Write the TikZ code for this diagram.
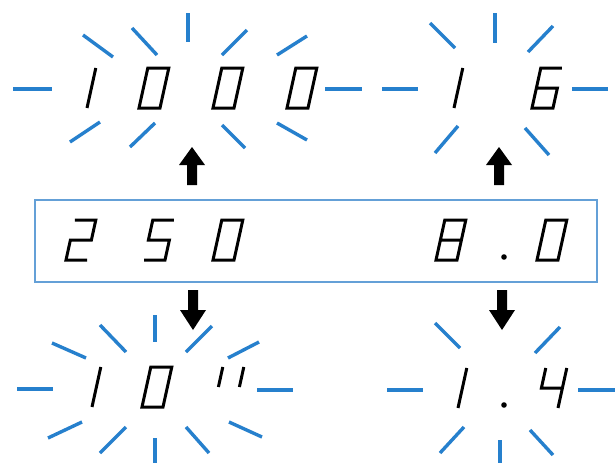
\documentclass[tikz,border=0pt]{standalone}
\definecolor{rayblue}{RGB}{38,128,205}
\definecolor{boxblue}{RGB}{100,160,215}
\def\dw{21}
\def\sl{0.22}
\tikzset{
  seg/.style={line width=3pt, line join=miter, draw=black},
  ray/.style={line width=3.4pt, draw=rayblue, line cap=butt},
  displaybox/.style={draw=boxblue, line width=1.8pt, inner sep=0pt},
  blockarrow/.style={fill=black, draw=none},
}
% point of a digit cell: #1 = across (0..21), #2 = height (0..40)
\newcommand\PT[2]{({\ox+#1+\sl*#2},{\oy-#2})}
\newcommand\dzero{\draw[seg] \PT{0}{0}--\PT{\dw}{0}--\PT{\dw}{40}--\PT{0}{40}--cycle;}
\newcommand\done{\draw[seg] \PT{\dw}{40}--\PT{\dw}{0};}
\newcommand\dtwo{\draw[seg] \PT{0}{40}--\PT{\dw}{40}--\PT{\dw}{20}--\PT{0}{20}--\PT{0}{0}--\PT{\dw}{0};}
\newcommand\dfive{\draw[seg] \PT{\dw}{40}--\PT{0}{40}--\PT{0}{20}--\PT{\dw}{20}--\PT{\dw}{0}--\PT{0}{0};}
\newcommand\dsix{\draw[seg] \PT{\dw}{40}--\PT{0}{40}--\PT{0}{0}--\PT{\dw}{0}--\PT{\dw}{20}--\PT{0}{20};}
\newcommand\deight{\draw[seg] \PT{0}{0}--\PT{\dw}{0}--\PT{\dw}{40}--\PT{0}{40}--cycle \PT{0}{20}--\PT{\dw}{20};}
\newcommand\dfour{\draw[seg] \PT{0}{40}--\PT{0}{20}--\PT{\dw}{20} \PT{\dw}{40}--\PT{\dw}{0};}
\newcommand\dticks{\draw[seg] \PT{0}{40}--\PT{0}{20} \PT{\dw}{40}--\PT{\dw}{20};}
\newcommand\segdig[3]{\def\ox{#1}\def\oy{#2}#3}
\newcommand\uparr[1]{\fill[blockarrow] (#1-5,185)--(#1-5,165)--(#1-13,165)--(#1,147)--(#1+13,165)--(#1+5,165)--(#1+5,185)--cycle;}
\newcommand\downarr[1]{\fill[blockarrow] (#1-5,290)--(#1-5,310)--(#1-13,310)--(#1,330)--(#1+13,310)--(#1+5,310)--(#1+5,290)--cycle;}
\begin{document}
\begin{tikzpicture}[x=1pt,y=-1pt]
\useasboundingbox (0,0) rectangle (616,464);
\fill[white] (0,0) rectangle (616,464);

% ---------- top left: 1000 ----------
\segdig{66}{108}{\done}
\segdig{139}{108}{\dzero}
\segdig{213}{108}{\dzero}
\segdig{287}{108}{\dzero}
\draw[ray] (13,89)--(52,89);
\draw[ray] (325,89)--(362,89);
\draw[ray] (188,13)--(188,42);
\draw[ray] (83,35)--(113,57);
\draw[ray] (132,28)--(157,55);
\draw[ray] (222,55)--(247,30);
\draw[ray] (277,55)--(307,36);
\draw[ray] (70,142)--(100,122);
\draw[ray] (130,147)--(155,123);
\draw[ray] (222,125)--(245,148);
\draw[ray] (277,123)--(307,140);

% ---------- top right: 1 6 ----------
\segdig{433}{108}{\done}
\segdig{532}{108}{\dsix}
\draw[ray] (382,89)--(418,89);
\draw[ray] (572,89)--(608,89);
\draw[ray] (495,13)--(495,43);
\draw[ray] (430,23)--(455,48);
\draw[ray] (528,52)--(553,26);
\draw[ray] (435,153)--(458,126);
\draw[ray] (525,128)--(549,155);

% ---------- middle display ----------
\node[displaybox, minimum width=562pt, minimum height=82pt] (display) at (316,241) {};
\segdig{66}{260}{\dtwo}
\segdig{144}{260}{\dfive}
\segdig{213}{260}{\dzero}
\segdig{436}{260}{\deight}
\fill (504,257) circle (2.8pt);
\segdig{537}{260}{\dzero}

% ---------- arrows ----------
\uparr{192}
\uparr{499}
\downarr{193}
\downarr{502}

% ---------- bottom left: 10'' ----------
\segdig{71}{407}{\done}
\segdig{142}{407}{\dzero}
\segdig{214}{407}{\dticks}
\draw[ray] (17,389)--(53,389);
\draw[ray] (257,390)--(293,390);
\draw[ray] (155,315)--(155,342);
\draw[ray] (100,325)--(126,352);
\draw[ray] (52,343)--(86,358);
\draw[ray] (186,352)--(212,326);
\draw[ray] (228,358)--(259,342);
\draw[ray] (48,438)--(82,422);
\draw[ray] (100,453)--(126,427);
\draw[ray] (155,438)--(155,463);
\draw[ray] (186,427)--(209,453);
\draw[ray] (229,422)--(262,437);

% ---------- bottom right: 1.4 ----------
\segdig{437}{408}{\done}
\fill (504,405) circle (2.8pt);
\segdig{537}{408}{\dfour}
\draw[ray] (387,390)--(423,390);
\draw[ray] (578,390)--(615,390);
\draw[ray] (435,323)--(460,348);
\draw[ray] (535,353)--(560,327);
\draw[ray] (440,453)--(464,427);
\draw[ray] (500,440)--(500,463);
\draw[ray] (530,430)--(553,455);
\end{tikzpicture}
\end{document}
